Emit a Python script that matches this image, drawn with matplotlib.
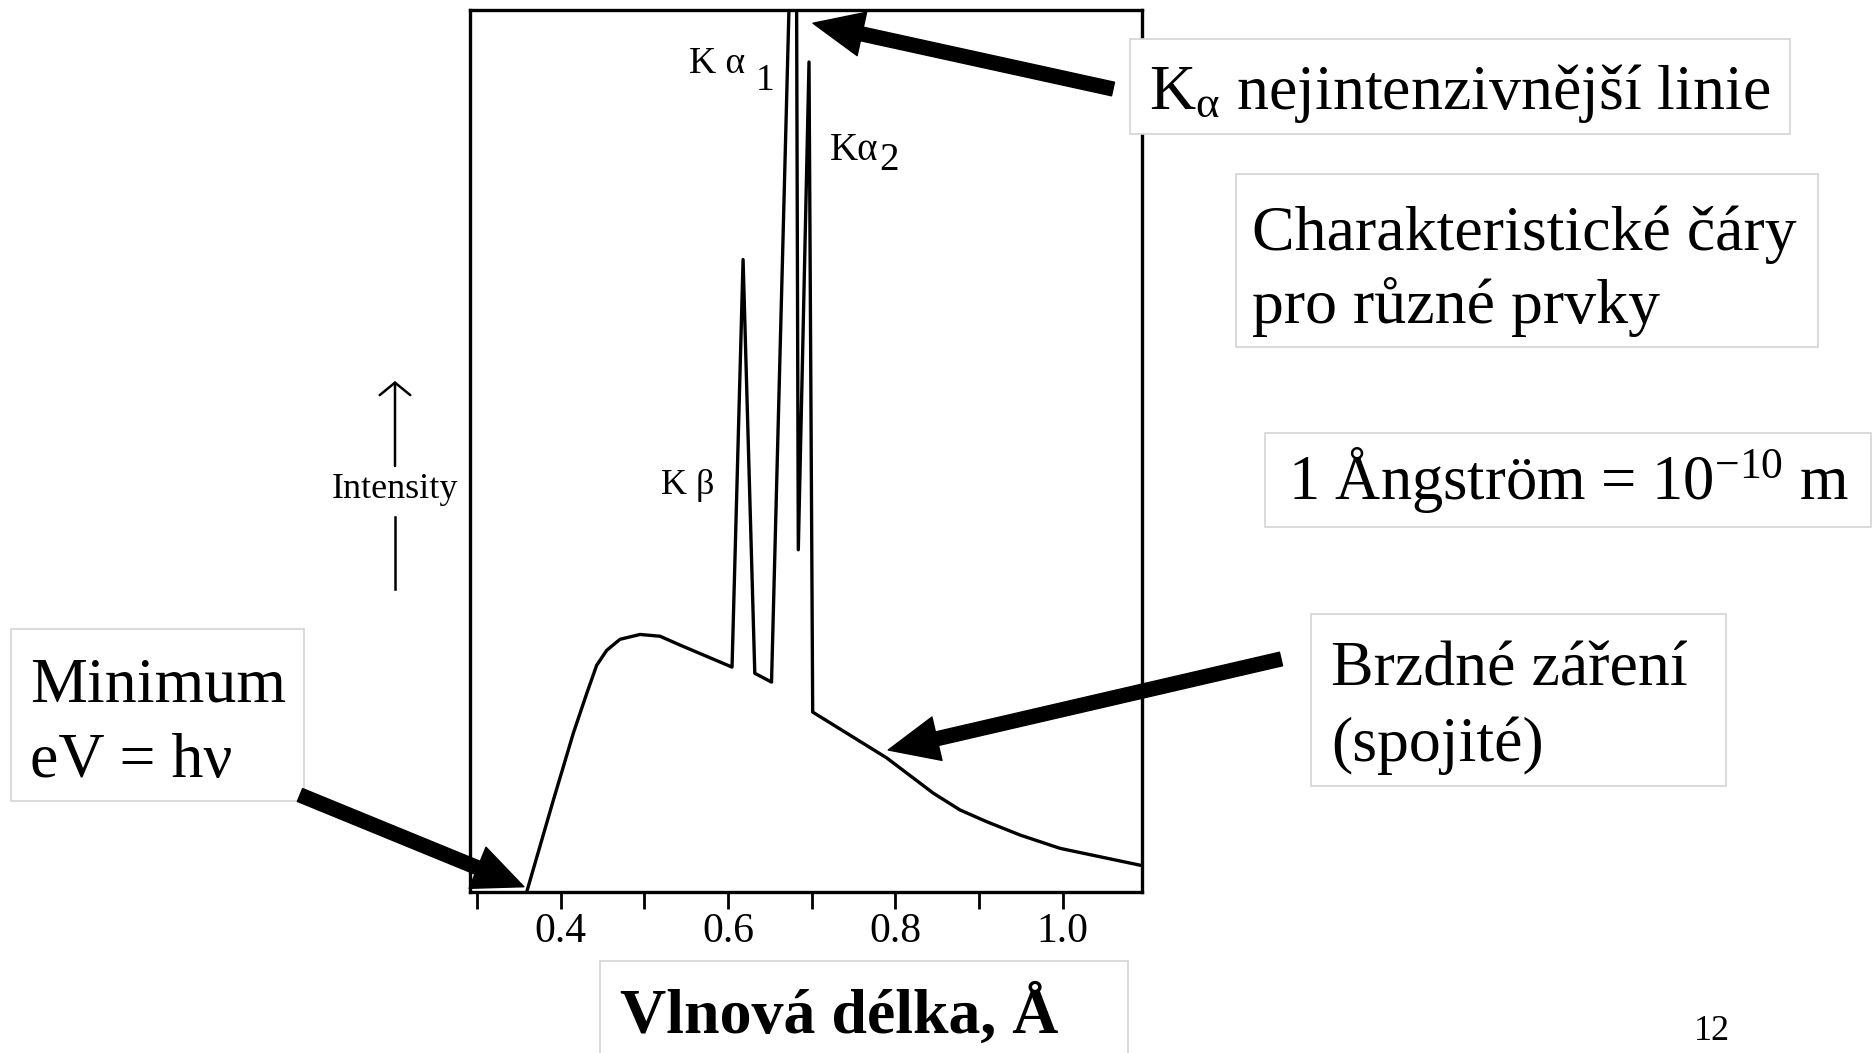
import numpy as np
import matplotlib
matplotlib.use('Agg')
import matplotlib.pyplot as plt
from matplotlib.patches import Rectangle

plt.rcParams['font.family'] = ['Liberation Serif', 'DejaVu Serif']
plt.rcParams['mathtext.fontset'] = 'custom'
plt.rcParams['mathtext.rm'] = 'Liberation Serif'
plt.rcParams['mathtext.it'] = 'Liberation Serif:italic'
plt.rcParams['mathtext.bf'] = 'Liberation Serif:bold'

# spectrum (wavelength in Angstrom, intensity in arb. units)
wavelength = [0.3594, 0.3912, 0.4151, 0.4311, 0.443, 0.455, 0.4709, 0.4948,
              0.5187, 0.5426, 0.6048, 0.618, 0.632, 0.652, 0.681, 0.684,
              0.6968, 0.7012, 0.7897, 0.8454, 0.8773, 0.9092, 0.949, 0.9968,
              1.0944]
intensity = [0.0, 10.4, 18.0, 22.5, 25.7, 27.4, 28.65, 29.2,
             29.0, 28.0, 25.5, 71.7, 24.8, 23.8, 130.0, 38.8,
             94.1, 20.4, 15.2, 11.2, 9.3, 7.97, 6.46, 4.95,
             3.0]

tick_pos = [0.3, 0.4, 0.5, 0.6, 0.7, 0.8, 0.9, 1.0]
tick_lab = ['', '0.4', '', '0.6', '', '0.8', '', '1.0']

W, H = 1874, 1053
fig = plt.figure(figsize=(W / 100, H / 100), dpi=100)

# chart frame (pixel positions of the scanned plot)
L, R, T, B = 469.8, 1141.7, 10, 892
ax = fig.add_axes([L / W, (H - B) / H, (R - L) / W, (B - T) / H], zorder=1)
ax.plot(wavelength, intensity, color='black', lw=2.4, solid_joinstyle='round')
ax.set_xlim(0.2914, 1.0944)
ax.set_ylim(0, 100)
ax.set_xticks(tick_pos)
ax.set_xticklabels(tick_lab)
ax.set_yticks([])
ax.tick_params(axis='x', direction='out', length=12, width=2, pad=3, labelsize=30)
for s in ax.spines.values():
    s.set_linewidth(2.4)

# overlay in pixel coordinates (y down) for boxes, labels and arrows
ov = fig.add_axes([0, 0, 1, 1], zorder=3)
ov.set_xlim(0, W)
ov.set_ylim(H, 0)
ov.axis('off')
ov.patch.set_alpha(0)

def box(x0, y0, x1, y1):
    ov.add_patch(Rectangle((x0, y0), x1 - x0, y1 - y0, facecolor='white',
                           edgecolor='#d4d4d4', lw=1.2, zorder=2))

big = 46
box(1130, 39, 1790, 134)
ov.text(1149, 109, r'K$_{\mathrm{α}}$ nejintenzivnější linie', fontsize=big,
        va='baseline', zorder=3)

box(1236, 174, 1818, 347)
ov.text(1252, 250, 'Charakteristické čáry', fontsize=big, va='baseline', zorder=3)
ov.text(1252, 323, 'pro různé prvky', fontsize=big, va='baseline', zorder=3)

box(1265, 433, 1871, 527)
ov.text(1288, 499, r'1 Ångström = 10$^{\mathrm{-10}}$ m', fontsize=45,
        va='baseline', zorder=3)

box(1311, 614, 1726, 786)
ov.text(1331, 685, 'Brzdné záření', fontsize=big, va='baseline', zorder=3)
ov.text(1331, 761, '(spojité)', fontsize=big, va='baseline', zorder=3)

box(11, 629, 304, 801)
ov.text(30, 701, 'Minimum', fontsize=big, va='baseline', zorder=3)
ov.text(30, 777, 'eV = hν', fontsize=big, va='baseline', zorder=3)

box(600, 961, 1128, 1070)
ov.text(620, 1033, 'Vlnová délka, Å', fontsize=46, fontweight='bold',
        va='baseline', zorder=3)

ov.text(1694, 1040, '12', fontsize=26, va='baseline', zorder=3)

# peak labels
ov.text(689, 73, 'K α', fontsize=27, va='baseline')
ov.text(756, 90, '1', fontsize=27, va='baseline')
ov.text(830, 160, 'Kα', fontsize=28, va='baseline')
ov.text(879, 170, '2', fontsize=28, va='baseline')
ov.text(661, 494, 'K β', fontsize=26, va='baseline')

# intensity axis label with arrow
ov.text(395, 498, 'Intensity', fontsize=26, ha='center', va='baseline')
ov.annotate('', xy=(395, 381), xytext=(395, 466),
            arrowprops=dict(arrowstyle='->,head_length=0.45,head_width=0.55',
                            mutation_scale=20, lw=1.8, color='black',
                            shrinkA=0, shrinkB=0))
ov.plot([395, 395], [517, 589], color='black', lw=1.8)

# thick pointer arrows
arrow = dict(arrowstyle='simple,head_length=3.6,head_width=3.2,tail_width=1.0',
             mutation_scale=10, color='black', shrinkA=0, shrinkB=0)
ov.annotate('', xy=(0.7016, 98.5), xycoords=ax.transData,
            xytext=(1113, 89), textcoords='data', arrowprops=arrow, zorder=4)
ov.annotate('', xy=(0.7915, 16.1), xycoords=ax.transData,
            xytext=(1281, 659), textcoords='data', arrowprops=arrow, zorder=4)
ov.annotate('', xy=(0.356, 0.6), xycoords=ax.transData,
            xytext=(300, 795), textcoords='data', arrowprops=arrow, zorder=4)

fig.savefig('out.png', dpi=100)
